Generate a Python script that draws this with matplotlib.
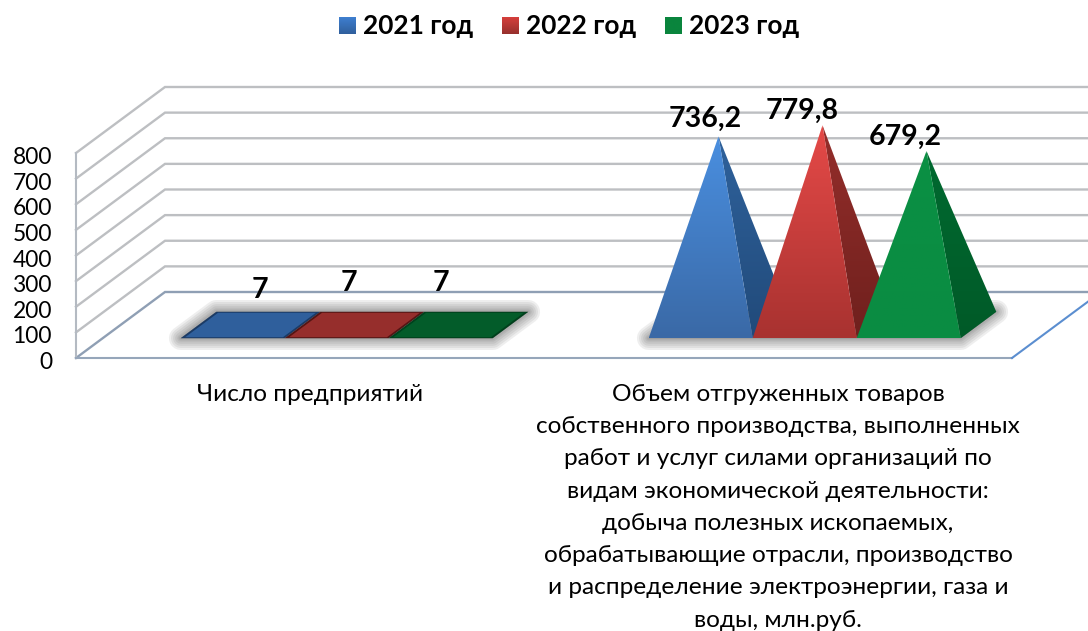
import numpy as np
import matplotlib
matplotlib.use('Agg')
import matplotlib.pyplot as plt
from matplotlib.colors import LinearSegmentedColormap
from matplotlib.patches import Polygon

plt.rcParams['font.family'] = ['Lato', 'Open Sans', 'DejaVu Sans']

categories = [
    'Число предприятий',
    'Объем отгруженных товаров\nсобственного производства, выполненных\nработ и услуг силами организаций по\n'
    'видам экономической деятельности:\nдобыча полезных ископаемых,\nобрабатывающие отрасли, производство\n'
    'и распределение электроэнергии, газа и\nводы, млн.руб.',
]
series_names = ['2021 год', '2022 год', '2023 год']
values_2021 = [7, 736.2]
values_2022 = [7, 779.8]
values_2023 = [7, 679.2]
value_labels_2021 = ['7', '736,2']
value_labels_2022 = ['7', '779,8']
value_labels_2023 = ['7', '679,2']
y_ticks = [0, 100, 200, 300, 400, 500, 600, 700, 800]

W, H = 1088, 631
X0_PX, X2_PX = 76, 1012      # front floor line
Y0_PX, Y800_PX = 358, 153    # front of the value axis
PX_PER_CAT = (X2_PX - X0_PX) / 2
PX_PER_VAL = (Y0_PX - Y800_PX) / 800
DEPTH_X = 89 / PX_PER_CAT    # wall offset, in category units
DEPTH_V = 66 / PX_PER_VAL    # wall offset, in value units
D_FRONT, D_REAR = 0.30, 0.70
BAR_W = 1 / 4.5

PALETTE = [
    dict(top='#4a8fe0', bottom='#3a69a6', side_top='#2f629c', side_bottom='#214a7a',
         flat='#2f5f9c', flat_edge='#1b3b66', legend=('#3f7fd0', '#2f5f9c')),
    dict(top='#e64a48', bottom='#a83230', side_top='#952e2b', side_bottom='#6f201d',
         flat='#962e2c', flat_edge='#541514', legend=('#d63f3c', '#96302d')),
    dict(top='#0a9044', bottom='#0a8c42', side_top='#006a30', side_bottom='#005a28',
         flat='#035c2a', flat_edge='#00401c', legend=('#0a853d', '#0a853d')),
]


def project(x, v, d):
    return x + d * DEPTH_X, v + d * DEPTH_V


def gradient_poly(ax, pts, c_top, c_bottom, zorder):
    pts = np.array(pts)
    patch = Polygon(pts, closed=True, fc='none', ec='none', zorder=zorder)
    ax.add_patch(patch)
    cmap = LinearSegmentedColormap.from_list('g', [c_bottom, c_top])
    grad = np.linspace(0, 1, 256).reshape(-1, 1)
    im = ax.imshow(grad, cmap=cmap, aspect='auto', origin='lower', zorder=zorder,
                   extent=(pts[:, 0].min(), pts[:, 0].max(), pts[:, 1].min(), pts[:, 1].max()))
    im.set_clip_path(patch)


def draw_shadow(ax, pts, zorder):
    for lw in [17, 14, 11, 8, 5, 3]:
        ax.add_patch(Polygon(pts, closed=True, fc='#303030', ec='#303030', lw=lw, alpha=0.08,
                             joinstyle='round', zorder=zorder))


def draw_bar(ax, x, value, style, zorder):
    left, right = x - BAR_W / 2, x + BAR_W / 2
    fl = project(left, 0, D_FRONT)
    fr = project(right, 0, D_FRONT)
    rr = project(right, 0, D_REAR)
    rl = project(left, 0, D_REAR)
    d_mid = (D_FRONT + D_REAR) / 2
    apex = project(x, value, d_mid)
    if value < 50:
        # nearly flat pyramid, seen from above: dark rim and a lighter middle
        ax.add_patch(Polygon([fl, fr, rr, rl], closed=True, fc=style['flat_edge'], ec='none', zorder=zorder))
        inset = BAR_W * 0.03
        ax.add_patch(Polygon([project(left + inset, 0, D_FRONT + 0.015), project(right - inset, 0, D_FRONT + 0.015),
                              project(right - inset, 0, D_REAR - 0.015), project(left + inset, 0, D_REAR - 0.015)],
                             closed=True, fc=style['flat'], ec='none', zorder=zorder + 0.1))
    else:
        gradient_poly(ax, [fr, rr, apex], style['side_top'], style['side_bottom'], zorder)
        gradient_poly(ax, [fl, fr, apex], style['top'], style['bottom'], zorder + 0.1)
    return apex


fig = plt.figure(figsize=(W / 100, H / 100), dpi=100)
ax = fig.add_axes([0, 0, 1, 1])
ax.axis('off')

# walls and gridlines
x_right = (W - X0_PX) / PX_PER_CAT + 0.2
for v in y_ticks:
    color = '#8f9fb4' if v == 0 else '#bdbfc2'
    xs, ys = zip(project(0, v, 0), project(0, v, 1), project(x_right, v, 1))
    ax.plot(xs, ys, color=color, lw=1.7, zorder=1, solid_joinstyle='miter')
ax.plot([0, 0], [0, y_ticks[-1]], color='#b4bac2', lw=1.5, zorder=1)
ax.plot([0, 2], [0, 0], color='#96a6ba', lw=1.5, zorder=1)
xs, ys = zip(project(2, 0, 0), project(2, 0, 1))
ax.plot(xs, ys, color='#5b8ed0', lw=1.5, zorder=1)

# shadows, then bars from left to right
series = [values_2021, values_2022, values_2023]
labels = [value_labels_2021, value_labels_2022, value_labels_2023]
for c in range(len(categories)):
    outer = BAR_W * 1.5
    center = c + 0.5
    draw_shadow(ax, [project(center - outer, 0, D_FRONT), project(center + outer, 0, D_FRONT),
                     project(center + outer, 0, D_REAR), project(center - outer, 0, D_REAR)], 2)

label_offsets = [[(0.02, 128), (-0.012, 156), (-0.037, 156)], [(-0.028, 67), (-0.043, 56), (-0.045, 56)]]
for c in range(len(categories)):
    for s, vals in enumerate(series):
        x = c + 0.5 + (s - 1) * BAR_W
        apex = draw_bar(ax, x, vals[c], PALETTE[s], 3 + s)
        dx, dv = label_offsets[c][s]
        ax.text(apex[0] + dx, apex[1] + dv, labels[s][c], ha='center', va='center',
                fontsize=20.5, fontweight='bold', color='black', zorder=10)

# value axis labels
for v in y_ticks:
    ax.text(-24 / PX_PER_CAT, v - 18, str(v), ha='right', va='center', fontsize=16.4, color='black')

# category labels
for c, name in enumerate(categories):
    ax.text(c + 0.5, -(384 - Y0_PX) / PX_PER_VAL, name, ha='center', va='top', fontsize=17.6,
            color='black', linespacing=1.66)

# legend
leg_x = [339, 502, 665]
for s, name in enumerate(series_names):
    x_a = (leg_x[s] - X0_PX) / PX_PER_CAT
    x_b = (leg_x[s] + 17 - X0_PX) / PX_PER_CAT
    v_a = (Y0_PX - 34) / PX_PER_VAL
    v_b = (Y0_PX - 17) / PX_PER_VAL
    gradient_poly(ax, [(x_a, v_a), (x_b, v_a), (x_b, v_b), (x_a, v_b)],
                  PALETTE[s]['legend'][0], PALETTE[s]['legend'][1], 5)
    ax.text((leg_x[s] + 24 - X0_PX) / PX_PER_CAT, (Y0_PX - 26) / PX_PER_VAL, name, ha='left',
            va='center', fontsize=18.9, fontweight='bold', color='black')

ax.set_xlim(-X0_PX / PX_PER_CAT, (W - X0_PX) / PX_PER_CAT)
ax.set_ylim((Y0_PX - H) / PX_PER_VAL, Y0_PX / PX_PER_VAL)

fig.savefig('out.png', dpi=100)
